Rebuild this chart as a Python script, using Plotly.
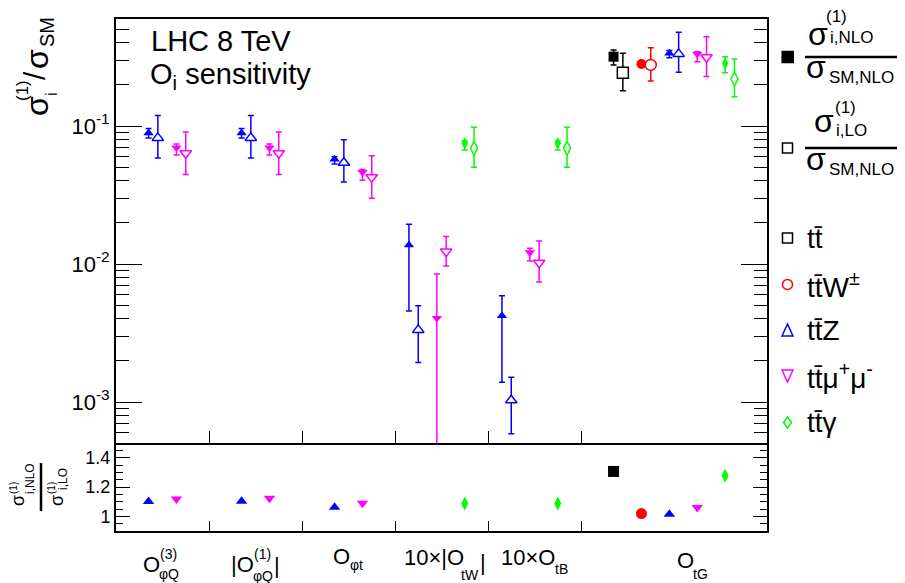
import plotly.graph_objects as go

# ---------------- data ----------------
categories = ["O_phiQ(3)", "|O_phiQ(1)|", "O_phit", "10x|O_tW|", "10xO_tB", "O_tG"]

# sigma_i^(1)/sigma_SM : NLO central, lower bound, upper bound ; LO central, lower, upper
ttbar_nlo    = [None, None, None, None, None, 0.318]
ttbar_nlo_lo = [None, None, None, None, None, 0.277]
ttbar_nlo_hi = [None, None, None, None, None, 0.356]
ttbar_lo     = [None, None, None, None, None, 0.243]
ttbar_lo_lo  = [None, None, None, None, None, 0.180]
ttbar_lo_hi  = [None, None, None, None, None, 0.336]

ttW_nlo    = [None, None, None, None, None, 0.281]
ttW_nlo_lo = [None, None, None, None, None, 0.268]
ttW_nlo_hi = [None, None, None, None, None, 0.292]
ttW_lo     = [None, None, None, None, None, 0.277]
ttW_lo_lo  = [None, None, None, None, None, 0.212]
ttW_lo_hi  = [None, None, None, None, None, 0.369]

ttZ_nlo    = [0.089, 0.089, 0.0574, 0.01375, 0.00422, 0.336]
ttZ_nlo_lo = [0.082, 0.082, 0.0530, 0.00456, 0.00139, 0.312]
ttZ_nlo_hi = [0.096, 0.096, 0.0599, 0.0194, 0.00589, 0.352]
ttZ_lo     = [0.082, 0.082, 0.0542, 0.00333, 0.00103, 0.333]
ttZ_lo_lo  = [0.0586, 0.0586, 0.0393, 0.00193, 0.000588, 0.245]
ttZ_lo_hi  = [0.119, 0.119, 0.0796, 0.00498, 0.00151, 0.478]

ttmm_nlo    = [0.0697, 0.0697, 0.0462, 0.00405, 0.0121, 0.333]
ttmm_nlo_lo = [0.0617, 0.0617, 0.0405, 0.00001, 0.0105, 0.292]
ttmm_nlo_hi = [0.0740, 0.0740, 0.0485, 0.00848, 0.0130, 0.345]
ttmm_lo     = [0.0634, 0.0634, 0.0425, 0.0123, 0.0102, 0.315]
ttmm_lo_lo  = [0.0446, 0.0446, 0.0299, 0.00968, 0.0074, 0.228]
ttmm_lo_hi  = [0.0905, 0.0905, 0.0610, 0.0158, 0.0147, 0.444]

ttA_nlo    = [None, None, None, 0.0749, 0.0749, 0.284]
ttA_nlo_lo = [None, None, None, 0.0670, 0.0670, 0.243]
ttA_nlo_hi = [None, None, None, 0.0782, 0.0782, 0.318]
ttA_lo     = [None, None, None, 0.0689, 0.0689, 0.219]
ttA_lo_lo  = [None, None, None, 0.0502, 0.0502, 0.163]
ttA_lo_hi  = [None, None, None, 0.0980, 0.0980, 0.306]

# NLO/LO ratio panel
ttbar_ratio = [None, None, None, None, None, 1.306]
ttW_ratio   = [None, None, None, None, None, 1.019]
ttZ_ratio   = [1.101, 1.103, 1.062, None, None, 1.014]
ttmm_ratio  = [1.119, 1.124, 1.090, None, None, 1.060]
ttA_ratio   = [None, None, None, 1.087, 1.087, 1.276]

y_tickvals = [1e-3, 1e-2, 1e-1]
y_ticktext = ["10<sup>-3</sup>", "10<sup>-2</sup>", "10<sup>-1</sup>"]
r_tickvals = [1.0, 1.2, 1.4]
r_ticktext = ["1", "1.2", "1.4"]

# ---------------- layout helpers ----------------
FONT = "Liberation Sans, Arial, Helvetica, sans-serif"
OFF = 8                      # page body margin in the browser
FW, FH = 905 - OFF, 583 - OFF
L, R, T, B = 116, 767, 19, 531   # plot area in screen px


def px(x):
    return (x - L) / (R - L)


def py(y):
    return (B - y) / (B - T)


bin_start = [0, 1, 2, 3, 4, 5]
slot_start = [0.35, 0.35, 0.35, 0.15, 0.15, 0.35]
slot_step = 0.3
lo_shift = 0.1

GREEN = "#00ff00"
procs = [
    dict(name="ttbar", color="#000000", sym="square", size=11,
         nlo=ttbar_nlo, nlo_lo=ttbar_nlo_lo, nlo_hi=ttbar_nlo_hi,
         lo=ttbar_lo, lo_lo=ttbar_lo_lo, lo_hi=ttbar_lo_hi, ratio=ttbar_ratio),
    dict(name="ttW", color="#ff0000", sym="circle", size=11,
         nlo=ttW_nlo, nlo_lo=ttW_nlo_lo, nlo_hi=ttW_nlo_hi,
         lo=ttW_lo, lo_lo=ttW_lo_lo, lo_hi=ttW_lo_hi, ratio=ttW_ratio),
    dict(name="ttZ", color="#0000ff", sym="triangle-up", size=10,
         nlo=ttZ_nlo, nlo_lo=ttZ_nlo_lo, nlo_hi=ttZ_nlo_hi,
         lo=ttZ_lo, lo_lo=ttZ_lo_lo, lo_hi=ttZ_lo_hi, ratio=ttZ_ratio),
    dict(name="ttmumu", color="#ff00ff", sym="triangle-down", size=10,
         nlo=ttmm_nlo, nlo_lo=ttmm_nlo_lo, nlo_hi=ttmm_nlo_hi,
         lo=ttmm_lo, lo_lo=ttmm_lo_lo, lo_hi=ttmm_lo_hi, ratio=ttmm_ratio),
    dict(name="ttgamma", color=GREEN, sym="diamond-tall", size=10,
         nlo=ttA_nlo, nlo_lo=ttA_nlo_lo, nlo_hi=ttA_nlo_hi,
         lo=ttA_lo, lo_lo=ttA_lo_lo, lo_hi=ttA_lo_hi, ratio=ttA_ratio),
]

present = []
for c in range(len(categories)):
    present.append([p["name"] for p in procs if p["nlo"][c] is not None])

fig = go.Figure()

for p in procs:
    xs, ys, em, ep = [], [], [], []
    xl, yl, elm, elp = [], [], [], []
    xr, yr = [], []
    for c in range(len(categories)):
        if p["nlo"][c] is None:
            continue
        k = present[c].index(p["name"])
        x = bin_start[c] + slot_start[c] + slot_step * k
        xs.append(x)
        ys.append(p["nlo"][c])
        em.append(p["nlo"][c] - p["nlo_lo"][c])
        ep.append(p["nlo_hi"][c] - p["nlo"][c])
        xl.append(x + lo_shift)
        yl.append(p["lo"][c])
        elm.append(p["lo"][c] - p["lo_lo"][c])
        elp.append(p["lo_hi"][c] - p["lo"][c])
        if p["ratio"][c] is not None:
            xr.append(x)
            yr.append(p["ratio"][c])
    col = p["color"]
    fig.add_trace(go.Scatter(
        x=xs, y=ys, mode="markers", xaxis="x", yaxis="y", showlegend=False,
        marker=dict(symbol=p["sym"], size=p["size"] - 1, color=col, line=dict(width=0)),
        error_y=dict(type="data", symmetric=False, array=ep, arrayminus=em,
                     color=col, thickness=1.5, width=3)))
    fig.add_trace(go.Scatter(
        x=xl, y=yl, mode="markers", xaxis="x", yaxis="y", showlegend=False,
        marker=dict(symbol=p["sym"], size=p["size"], color="white",
                    line=dict(width=1.5, color=col)),
        error_y=dict(type="data", symmetric=False, array=elp, arrayminus=elm,
                     color=col, thickness=1.5, width=3)))
    fig.add_trace(go.Scatter(
        x=xr, y=yr, mode="markers", xaxis="x2", yaxis="y2", showlegend=False,
        marker=dict(symbol=p["sym"], size=p["size"], color=col, line=dict(width=0))))

split = py(443)

minor_log = [k * 10 ** e for e in (-4, -3, -2, -1) for k in range(2, 10)]

axis_common = dict(showline=True, linecolor="black", linewidth=2, ticks="inside",
                   tickcolor="black", tickwidth=1.2, showgrid=False, zeroline=False)

fig.update_layout(
    width=FW, height=FH,
    margin=dict(l=L - OFF, r=905 - R, t=T - OFF, b=583 - B, autoexpand=False),
    paper_bgcolor="white", plot_bgcolor="white",
    font=dict(family=FONT, color="black"),
    xaxis=dict(domain=[0, 1], range=[0, 7], anchor="y", tickvals=[1, 2, 3, 4, 5],
               ticklen=12, showticklabels=False, mirror=True, **axis_common),
    yaxis=dict(domain=[split, 1], type="log", range=[-3.297, -0.2246], anchor="x",
               tickvals=y_tickvals, ticktext=y_ticktext, ticklen=26, mirror="allticks",
               tickfont=dict(size=22, family=FONT),
               minor=dict(tickvals=minor_log, ticklen=13, ticks="inside",
                          tickcolor="black", tickwidth=1.2),
               **axis_common),
    xaxis2=dict(domain=[0, 1], range=[0, 7], anchor="y2", tickvals=[1, 2, 3, 4, 5],
                ticklen=10, showticklabels=False, mirror=False, **axis_common),
    yaxis2=dict(domain=[0, split], range=[0.9, 1.5], anchor="x2",
                tickvals=r_tickvals, ticktext=r_ticktext, ticklen=14, mirror="allticks",
                tickfont=dict(size=18, family=FONT),
                minor=dict(dtick=0.05, tick0=0, ticklen=7, ticks="inside",
                           tickcolor="black", tickwidth=1.2),
                **axis_common),
)

ann = []
shapes = []


def txt(x, y, s, size, rot=0, xanchor="center", color="black"):
    ann.append(dict(x=px(x), y=py(y), xref="paper", yref="paper", text=s,
                    showarrow=False, textangle=rot, xanchor=xanchor, yanchor="middle",
                    borderpad=0,
                    font=dict(size=size, color=color, family=FONT)))


# in-plot labels
txt(150, 41, "LHC 8 TeV", 29, xanchor="left")
txt(149, 76, "O<sub>i</sub> sensitivity", 29, xanchor="left")

# y-axis title (rotated)
txt(37, 106, "σ", 32, rot=-90)
txt(22, 91, "(1)", 17, rot=-90)
txt(51, 94, "i", 17, rot=-90)
txt(34, 76, "/", 30, rot=-90)
txt(37, 59, "σ", 32, rot=-90)
txt(47, 32, "SM", 20, rot=-90)

# ratio title (rotated fraction)
txt(18, 501, "σ", 18, rot=-90)
txt(13, 488, "(1)", 10, rot=-90)
txt(30, 479, "i,NLO", 12, rot=-90)
txt(57, 501, "σ", 18, rot=-90)
txt(51, 488, "(1)", 10, rot=-90)
txt(63, 479, "i,LO", 12, rot=-90)
shapes.append(dict(type="line", xref="paper", yref="paper", x0=px(41), x1=px(41),
                   y0=py(463), y1=py(511), line=dict(color="black", width=2.5)))

# category labels
txt(151.5, 564, "O", 22)
txt(168, 554, "(3)", 14)
txt(169, 574, "φQ", 14)
txt(242, 564, "|O", 22)
txt(262, 554, "(1)", 14)
txt(263, 576, "φQ", 14)
txt(277, 565, "|", 22)
txt(434, 557, "10×|O", 22)
txt(470, 575, "tW", 14)
txt(483, 562, "|", 22)
txt(341.5, 556, "O", 22)
txt(356, 565, "φt", 14)
txt(528, 557, "10×O", 22)
txt(561, 569, "tB", 14)
txt(685.5, 560, "O", 22)
txt(700, 574, "tG", 14)

# legend: fractions
txt(818, 34, "σ", 32)
txt(836, 16, "(1)", 17)
txt(851, 37, "i,NLO", 17)
shapes.append(dict(type="line", xref="paper", yref="paper", x0=px(805), x1=px(900),
                   y0=py(57), y1=py(57), line=dict(color="black", width=2.5)))
txt(816, 67, "σ", 32)
txt(861, 77, "SM,NLO", 17)

txt(824, 121, "σ", 32)
txt(845, 107, "(1)", 17)
txt(851, 130, "i,LO", 17)
shapes.append(dict(type="line", xref="paper", yref="paper", x0=px(805), x1=px(900),
                   y0=py(148), y1=py(148), line=dict(color="black", width=2.5)))
txt(816, 159, "σ", 32)
txt(861, 169, "SM,NLO", 17)

TB = "tt\u0304"
txt(806, 238, TB, 28, xanchor="left")
txt(806, 285, TB + "W<sup>±</sup>", 28, xanchor="left")
txt(806, 330, TB + "Z", 28, xanchor="left")
txt(806, 376, TB + "μ<sup>+</sup>μ<sup>-</sup>", 28, xanchor="left")
txt(806, 422, TB + "γ", 28, xanchor="left")


def pshape(points, color, fill):
    d = "M " + " L ".join(f"{px(x):.5f},{py(y):.5f}" for x, y in points) + " Z"
    shapes.append(dict(type="path", xref="paper", yref="paper", path=d,
                       line=dict(color=color, width=1.5),
                       fillcolor=color if fill else "white"))


def sq(cx, cy, s, color, fill):
    h = s / 2
    pshape([(cx - h, cy - h), (cx + h, cy - h), (cx + h, cy + h), (cx - h, cy + h)], color, fill)


sq(787.7, 57, 11, "black", True)
sq(787.5, 148, 10, "black", False)
sq(787.5, 238, 10, "black", False)
shapes.append(dict(type="circle", xref="paper", yref="paper",
                   x0=px(782.5), x1=px(792.5), y0=py(279.5), y1=py(289.5),
                   line=dict(color="red", width=1.5)))
pshape([(782, 336), (793, 336), (787.5, 324)], "#0000ff", False)
pshape([(782, 370), (793, 370), (787.5, 382)], "#ff00ff", False)
pshape([(787.5, 417), (791.5, 422.5), (787.5, 428), (783.5, 422.5)], GREEN, False)

fig.update_layout(annotations=ann, shapes=shapes)

fig.write_html("out.html")
